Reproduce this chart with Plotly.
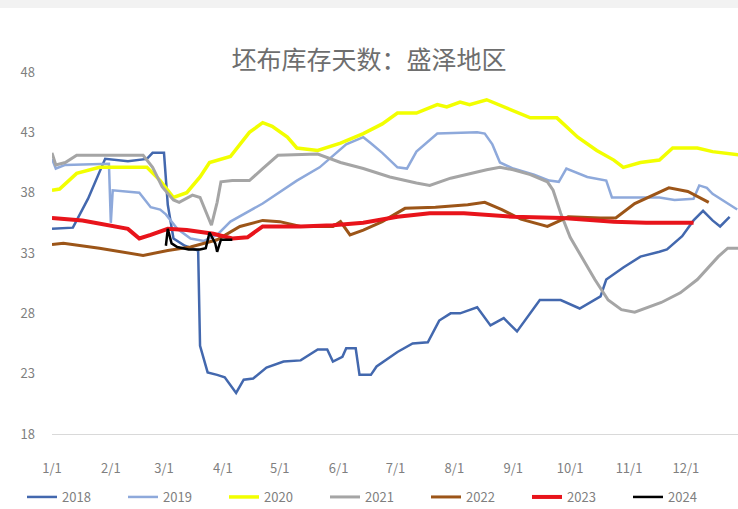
import pandas as pd
import plotly.graph_objects as go

# Weekly grey-fabric inventory days (Shengze), plotted on a common calendar year
d2018 = ["01-01", "01-12", "01-20", "01-29", "02-10", "02-20", "02-23", "03-01", "03-03", "03-06",
         "03-12", "03-19", "03-20", "03-24", "03-29", "04-02", "04-08", "04-12", "04-17", "04-24",
         "05-03", "05-12", "05-21", "05-26", "05-29", "06-03", "06-05", "06-10", "06-12", "06-18",
         "06-21", "07-02", "07-10", "07-18", "07-24", "07-30", "08-04", "08-13", "08-20", "08-27",
         "09-03", "09-15", "09-26", "10-06", "10-17", "10-20", "10-29", "11-07", "11-17", "11-21",
         "11-29", "12-05", "12-10", "12-15", "12-19", "12-24"]
v2018 = [35.0, 35.1, 37.5, 40.8, 40.6, 40.8, 41.3, 41.3, 37.0, 34.2,
         33.6, 33.2, 25.3, 23.1, 22.9, 22.7, 21.4, 22.5, 22.6, 23.5,
         24.0, 24.1, 25.0, 25.0, 24.0, 24.4, 25.1, 25.1, 22.9, 22.9,
         23.6, 24.8, 25.5, 25.6, 27.4, 28.0, 28.0, 28.5, 27.0, 27.6,
         26.5, 29.1, 29.1, 28.4, 29.4, 30.8, 31.8, 32.7, 33.1, 33.3,
         34.4, 35.7, 36.5, 35.7, 35.2, 36.0]

d2019 = ["01-01", "01-03", "01-08", "01-31", "02-01", "02-02", "02-16", "02-22", "02-27", "03-02",
         "03-08", "03-15", "03-22", "03-29", "04-05", "04-22", "05-10", "05-22", "06-05", "06-14",
         "06-18", "06-24", "07-02", "07-07", "07-12", "07-23", "08-13", "08-17", "08-21", "08-25",
         "09-01", "09-12", "09-20", "09-25", "09-29", "10-10", "10-20", "10-23", "11-01", "11-17",
         "11-25", "12-05", "12-08", "12-12", "12-15", "12-22", "12-28"]
v2019 = [40.8, 40.0, 40.3, 40.4, 35.5, 38.2, 38.0, 36.8, 36.6, 36.2,
         35.0, 34.2, 34.0, 34.5, 35.6, 37.1, 39.0, 40.1, 42.0, 42.6,
         42.1, 41.3, 40.1, 40.0, 41.4, 42.9, 43.0, 42.9, 42.0, 40.5,
         40.0, 39.5, 39.0, 38.9, 40.0, 39.3, 39.0, 37.6, 37.6, 37.6,
         37.4, 37.5, 38.6, 38.4, 37.9, 37.2, 36.6]

d2020 = ["01-01", "01-05", "01-14", "01-26", "02-20", "02-27", "03-06", "03-13", "03-20", "03-25",
         "04-05", "04-15", "04-22", "04-27", "05-05", "05-10", "05-21", "06-02", "06-14", "06-24",
         "07-02", "07-12", "07-23", "07-28", "08-04", "08-09", "08-18", "08-21", "08-30", "09-10",
         "09-24", "10-05", "10-15", "10-24", "10-29", "11-07", "11-17", "11-24", "12-07", "12-15",
         "12-31"]
v2020 = [38.2, 38.3, 39.6, 40.1, 40.1, 39.0, 37.6, 38.0, 39.3, 40.5,
         41.0, 43.0, 43.8, 43.5, 42.6, 41.7, 41.5, 42.1, 42.9, 43.7,
         44.6, 44.6, 45.3, 45.1, 45.5, 45.3, 45.7, 45.5, 44.9, 44.2,
         44.2, 42.6, 41.5, 40.7, 40.1, 40.5, 40.7, 41.7, 41.7, 41.4,
         41.1]

d2021 = ["01-01", "01-03", "01-08", "01-14", "02-18", "02-23", "02-28", "03-06", "03-09", "03-16",
         "03-20", "03-24", "03-26", "03-29", "03-31", "04-06", "04-15", "04-22", "04-30", "05-21",
         "06-02", "06-14", "06-28", "07-12", "07-19", "07-30", "08-09", "08-18", "08-25", "09-01",
         "09-10", "09-19", "09-22", "09-26", "10-01", "10-08", "10-14", "10-21", "10-28", "11-04",
         "11-18", "11-28", "12-07", "12-18", "12-23", "12-31"]
v2021 = [41.3, 40.3, 40.5, 41.1, 41.1, 40.1, 38.5, 37.4, 37.2, 37.8,
         37.6, 36.0, 35.3, 37.2, 38.9, 39.0, 39.0, 40.0, 41.1, 41.2,
         40.5, 40.0, 39.3, 38.8, 38.6, 39.2, 39.6, 39.9, 40.1, 39.9,
         39.5, 38.9, 38.2, 36.3, 34.3, 32.4, 30.8, 29.1, 28.3, 28.1,
         28.9, 29.7, 30.8, 32.7, 33.4, 33.4]

d2022 = ["01-01", "01-07", "01-26", "02-18", "03-03", "03-15", "03-29", "04-10", "04-22", "05-01",
         "05-12", "05-29", "06-02", "06-07", "06-14", "06-24", "07-06", "07-22", "08-08", "08-17",
         "08-26", "09-05", "09-19", "09-30", "10-17", "10-25", "11-04", "11-22", "12-02", "12-13"]
v2022 = [33.7, 33.8, 33.4, 32.8, 33.2, 33.5, 34.1, 35.2, 35.7, 35.6,
         35.2, 35.2, 35.6, 34.5, 34.9, 35.6, 36.7, 36.8, 37.0, 37.2,
         36.6, 35.8, 35.2, 36.0, 35.9, 35.9, 37.1, 38.4, 38.1, 37.2]

d2023 = ["01-01", "01-17", "02-10", "02-16", "02-22", "03-03", "03-13", "03-27", "04-06", "04-14",
         "04-22", "05-12", "05-29", "06-14", "07-02", "07-19", "08-06", "08-18", "09-01", "09-27",
         "10-24", "11-10", "12-05"]
v2023 = [35.9, 35.7, 35.0, 34.2, 34.5, 35.0, 34.9, 34.6, 34.2, 34.3,
         35.2, 35.2, 35.3, 35.5, 36.0, 36.3, 36.3, 36.2, 36.0, 35.9,
         35.6, 35.5, 35.5]

d2024 = ["03-02", "03-03", "03-05", "03-08", "03-14", "03-20", "03-23", "03-25", "03-28", "03-29",
         "03-31", "04-06"]
v2024 = [33.6, 35.0, 33.8, 33.5, 33.3, 33.3, 33.4, 34.7, 33.8, 33.1,
         34.1, 34.1]

years = ["2018", "2019", "2020", "2021", "2022", "2023", "2024"]
dates = [d2018, d2019, d2020, d2021, d2022, d2023, d2024]
values = [v2018, v2019, v2020, v2021, v2022, v2023, v2024]
colors = ["#4368AE", "#8EA9DB", "#F2FF00", "#A5A5A5", "#9C5518", "#E8141B", "#000000"]
widths = [2.5, 2.5, 3.5, 3, 3, 4, 2.5]

month_ticks = [f"2018-{m:02d}-01" for m in range(1, 13)]
month_text = [f"{m}/1" for m in range(1, 13)]

title_text = "坯布库存天数：盛泽地区"
tick_font = dict(family="Liberation Sans Narrow, Noto Sans CJK SC, sans-serif", size=13, color="#7F7F7F")

fig = go.Figure()
for yr, d, v, c, w in zip(years, dates, values, colors, widths):
    fig.add_trace(go.Scatter(
        x=pd.to_datetime(["2018-" + s for s in d]),
        y=v,
        mode="lines",
        name=yr,
        line=dict(color=c, width=w),
    ))

fig.update_layout(
    width=738,
    height=509,
    margin=dict(l=52, r=0, t=72, b=75, autoexpand=False),
    paper_bgcolor="white",
    plot_bgcolor="white",
    title=dict(
        text=title_text,
        x=0.5, xref="container", xanchor="center",
        y=1 - 60 / 509, yref="container", yanchor="middle",
        font=dict(family="Noto Sans CJK SC, sans-serif", size=25, color="#6E6E6E"),
    ),
    showlegend=True,
    legend=dict(
        orientation="h",
        x=-30 / 686, xref="paper", xanchor="left",
        y=-63 / 362, yanchor="middle",
        entrywidth=56, entrywidthmode="pixels",
        itemwidth=30,
        font=tick_font,
        bgcolor="rgba(0,0,0,0)",
    ),
    shapes=[dict(
        type="rect", xref="paper", yref="paper",
        x0=-0.2, x1=1.2, y0=1 + 64 / 362, y1=1 + 72 / 362,
        fillcolor="#F2F2F2", line=dict(width=0), layer="below",
    )],
)

fig.update_xaxes(
    type="date",
    range=["2018-01-01", "2018-12-28 10:00"],
    tickvals=month_ticks,
    ticktext=month_text,
    tickangle=0,
    showline=True, linecolor="#D9D9D9", linewidth=1,
    showgrid=False, zeroline=False,
    ticks="",
    ticklabelstandoff=22,
    tickfont=tick_font,
)
fig.update_yaxes(
    range=[18, 48],
    tick0=18, dtick=5,
    showgrid=False, zeroline=False, showline=False,
    ticks="",
    ticklabelstandoff=16,
    tickfont=tick_font,
)

fig.write_html("out.html")
